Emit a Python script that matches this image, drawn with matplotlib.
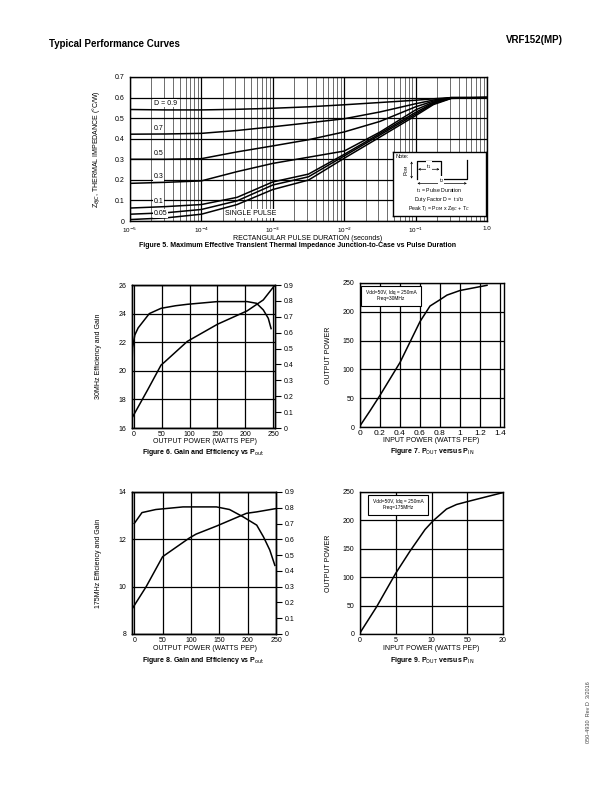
import numpy as np
import matplotlib
matplotlib.use("Agg")
import matplotlib.pyplot as plt

plt.rcParams['font.family'] = ['Liberation Sans', 'DejaVu Sans']
plt.rcParams['axes.linewidth'] = 1.0

# ---- Figure 5: transient thermal impedance ----
log_t = [-5, -4.5, -4, -3.5, -3, -2.5, -2, -1.5, -1, -0.75, -0.5, 0]
zth = {
    "0.9":  [0.542, 0.540, 0.540, 0.543, 0.548, 0.555, 0.565, 0.576, 0.587, 0.594, 0.600, 0.600],
    "0.7":  [0.422, 0.423, 0.426, 0.440, 0.458, 0.477, 0.497, 0.530, 0.570, 0.588, 0.600, 0.600],
    "0.5":  [0.300, 0.300, 0.303, 0.336, 0.365, 0.395, 0.433, 0.484, 0.555, 0.583, 0.599, 0.600],
    "0.3":  [0.183, 0.188, 0.195, 0.240, 0.280, 0.310, 0.340, 0.432, 0.540, 0.578, 0.598, 0.600],
    "0.1":  [0.063, 0.070, 0.080, 0.115, 0.190, 0.228, 0.324, 0.425, 0.528, 0.574, 0.598, 0.600],
    "0.05": [0.033, 0.040, 0.056, 0.098, 0.175, 0.215, 0.316, 0.418, 0.520, 0.570, 0.597, 0.600],
    "single": [0.007, 0.015, 0.033, 0.080, 0.153, 0.199, 0.305, 0.408, 0.512, 0.566, 0.596, 0.600],
}
d_labels = ["D = 0.9", "0.7", "0.5", "0.3", "0.1", "0.05"]
d_label_y = [0.573, 0.451, 0.329, 0.215, 0.096, 0.036]

# ---- Figure 6: 30 MHz gain / efficiency ----
f6_gain_x = [-3, -2, 2, 8, 18, 28, 49, 75, 96, 150, 203, 220, 232, 241, 246]
f6_gain_y = [20.4, 21.6, 22.5, 23.0, 23.5, 24.0, 24.37, 24.55, 24.65, 24.84, 24.84, 24.72, 24.26, 23.67, 22.95]
f6_eff_x = [-3, 25, 49, 55, 96, 150, 203, 232, 253]
f6_eff_y = [0.063, 0.24, 0.396, 0.414, 0.545, 0.653, 0.737, 0.806, 0.9]

# ---- Figure 7: Pout vs Pin 30 MHz ----
f7_pin = [0.0, 0.1, 0.2, 0.4, 0.6, 0.7, 0.8, 0.87, 1.0, 1.27]
f7_pout = [2, 28, 55, 112, 183, 210, 221, 229, 237, 246]

# ---- Figure 8: 175 MHz gain / efficiency ----
f8_gain_x = [0, 13.6, 38, 86, 145, 168, 192, 216, 228, 239, 248]
f8_gain_y = [12.67, 13.13, 13.26, 13.37, 13.37, 13.26, 12.95, 12.6, 12.1, 11.55, 10.9]
f8_eff_x = [-4, 21, 50, 97, 109, 145, 198, 216, 250]
f8_eff_y = [0.158, 0.30, 0.49, 0.608, 0.633, 0.684, 0.765, 0.774, 0.795]

# ---- Figure 9: Pout vs Pin 175 MHz ----
f9_pin = [0, 2.33, 5, 7, 9.1, 10.2, 12.1, 13.5, 15.3, 20]
f9_pout = [2, 48, 107, 146, 184, 199, 220, 228, 234, 249]
f9_ticklabels = ["0", "5", "10", "50", "20"]

W, H = 612, 792
fig = plt.figure(figsize=(W / 100, H / 100), dpi=100)


def box(l, t, r, b):
    return [l / W, 1 - b / H, (r - l) / W, (b - t) / H]


def ftext(x, y, s, **kw):
    fig.text(x / W, 1 - y / H, s, **kw)


ftext(49, 44, "Typical Performance Curves", fontsize=7, fontweight='bold', va='center')
ftext(563, 40, "VRF152(MP)", fontsize=7, fontweight='bold', va='center', ha='right')
ftext(589, 712, "050-4930  Rev D  3/2016", fontsize=4, rotation=90, va='center', ha='center', color='#444444')

# Figure 5
ax5 = fig.add_axes(box(130, 77, 487, 221))
t = 10.0 ** np.array(log_t)
for key, vals in zth.items():
    ax5.plot(t, vals, color='black', lw=1.1)
ax5.set_xscale('log')
ax5.set_xlim(1e-5, 1.0)
ax5.set_ylim(0, 0.7)
ax5.set_xticks([1e-5, 1e-4, 1e-3, 1e-2, 1e-1, 1.0])
ax5.set_xticklabels(["10$^{-5}$", "10$^{-4}$", "10$^{-3}$", "10$^{-2}$", "10$^{-1}$", "1.0"], fontsize=4.5)
ax5.set_yticks(np.arange(0, 0.71, 0.1))
ax5.set_yticklabels(["0", "0.1", "0.2", "0.3", "0.4", "0.5", "0.6", "0.7"], fontsize=5)
ax5.tick_params(which='both', length=0, pad=4)
ax5.tick_params(axis='x', pad=3.5)
ax5.grid(True, which='major', color='black', lw=0.9)
ax5.grid(True, which='minor', axis='x', color='black', lw=0.4)
for lab, yv in zip(d_labels, d_label_y):
    ax5.text(10 ** -4.67, yv, lab, fontsize=5, va='center', ha='left',
             bbox=dict(facecolor='white', edgecolor='none', pad=0.5))
ax5.text(10 ** -3.67, 0.036, "SINGLE PULSE", fontsize=5, va='center', ha='left',
         bbox=dict(facecolor='white', edgecolor='none', pad=0.5))
ftext(308, 238, "RECTANGULAR PULSE DURATION (seconds)", fontsize=5, ha='center', va='center')
ax5.set_ylabel(r"Z$_{\theta JC}$, THERMAL IMPEDANCE (°C/W)", fontsize=5, labelpad=8)
ftext(298, 245.5, "Figure 5. Maximum Effective Transient Thermal Impedance Junction-to-Case vs Pulse Duration",
      fontsize=5, fontweight='bold', ha='center', va='center')

# Note inset
axn = fig.add_axes(box(393, 152, 486, 216))
axn.set_xlim(0, 1)
axn.set_ylim(0, 1)
axn.set_xticks([])
axn.set_yticks([])
axn.patch.set_facecolor('white')
axn.text(0.03, 0.93, "Note:", fontsize=4, va='center')
axn.plot([0.262, 0.262, 0.511, 0.511, 0.794, 0.794], [0.583, 0.854, 0.854, 0.583, 0.583, 0.87],
         color='black', lw=0.9)
axn.annotate("", xy=(0.20, 0.854), xytext=(0.20, 0.583),
             arrowprops=dict(arrowstyle='<->', lw=0.5, shrinkA=0, shrinkB=0, mutation_scale=3))
axn.text(0.15, 0.72, r"P$_{\rm DM}$", fontsize=4, rotation=90, va='center', ha='center')
axn.annotate("", xy=(0.27, 0.73), xytext=(0.50, 0.73),
             arrowprops=dict(arrowstyle='<->', lw=0.5, shrinkA=0, shrinkB=0, mutation_scale=3))
axn.text(0.385, 0.78, r"t$_1$", fontsize=4, ha='center', va='center',
         bbox=dict(facecolor='white', edgecolor='none', pad=0.2))
axn.annotate("", xy=(0.262, 0.51), xytext=(0.794, 0.51),
             arrowprops=dict(arrowstyle='<->', lw=0.5, shrinkA=0, shrinkB=0, mutation_scale=3))
axn.text(0.52, 0.555, r"t$_2$", fontsize=3.8, ha='center', va='center',
         bbox=dict(facecolor='white', edgecolor='none', pad=0.1))
axn.text(0.5, 0.39, r"t$_1$ = Pulse Duration", fontsize=3.8, ha='center', va='center')
axn.text(0.5, 0.25, r"Duty Factor D =  t$_1$/t$_2$", fontsize=3.8, ha='center', va='center')
axn.text(0.5, 0.10, r"Peak T$_J$ = P$_{\rm DM}$ x Z$_{\theta JC}$ + T$_C$", fontsize=3.8, ha='center', va='center')


def setup_ef(ax, ylim, yticks, xlim):
    ax.set_xlim(*xlim)
    ax.set_ylim(*ylim)
    ax.set_xticks([0, 50, 100, 150, 200, 250])
    ax.set_yticks(yticks)
    ax.tick_params(labelsize=5, length=0, pad=4)
    ax.tick_params(axis='x', pad=2)
    ax.grid(True, color='black', lw=0.9)
    axr = ax.twinx()
    axr.set_ylim(0, 0.9)
    axr.set_yticks(np.arange(0, 0.91, 0.1))
    axr.set_yticklabels(["0", "0.1", "0.2", "0.3", "0.4", "0.5", "0.6", "0.7", "0.8", "0.9"])
    axr.tick_params(labelsize=5, length=4, width=0.8, direction='out', pad=2)
    return axr


# Figure 6
ax6 = fig.add_axes(box(132, 285, 275, 428))
ax6r = setup_ef(ax6, (16, 26), [16, 18, 20, 22, 24, 26], (-3, 253))
ax6.plot(f6_gain_x, f6_gain_y, color='black', lw=1.1)
ax6r.plot(f6_eff_x, f6_eff_y, color='black', lw=1.1)
ax6.set_ylabel("30MHz Efficiency and Gain", fontsize=5, labelpad=12)
ftext(205, 441.5, "OUTPUT POWER (WATTS PEP)", fontsize=5, ha='center', va='center')
ftext(203, 452, r"Figure 6. Gain and Efficiency vs P$_{\rm out}$", fontsize=5, fontweight='bold',
      ha='center', va='center')

# Figure 8
ax8 = fig.add_axes(box(132, 492, 276, 634))
ax8r = setup_ef(ax8, (8, 14), [8, 10, 12, 14], (-4, 250))
ax8.plot(f8_gain_x, f8_gain_y, color='black', lw=1.1)
ax8r.plot(f8_eff_x, f8_eff_y, color='black', lw=1.1)
ax8.set_ylabel("175MHz Efficiency and Gain", fontsize=5, labelpad=12)
ftext(205, 648.5, "OUTPUT POWER (WATTS PEP)", fontsize=5, ha='center', va='center')
ftext(203, 661, r"Figure 8. Gain and Efficiency vs P$_{\rm out}$", fontsize=5, fontweight='bold',
      ha='center', va='center')


def setup_pp(ax, xlim, xticks):
    ax.set_xlim(*xlim)
    ax.set_ylim(0, 250)
    ax.set_xticks(xticks)
    ax.set_yticks([0, 50, 100, 150, 200, 250])
    ax.tick_params(labelsize=5, length=0, pad=4)
    ax.tick_params(axis='x', pad=2)
    ax.grid(True, color='black', lw=0.9)
    ax.set_ylabel("OUTPUT POWER", fontsize=5, labelpad=8)


# Figure 7
ax7 = fig.add_axes(box(360, 283, 504, 427))
setup_pp(ax7, (0, 1.44), [0, 0.2, 0.4, 0.6, 0.8, 1.0, 1.2, 1.4])
ax7.set_xticklabels(["0", "0.2", "0.4", "0.6", "0.8", "1", "1.2", "1.4"], fontsize=6)
ax7.plot(f7_pin, f7_pout, color='black', lw=1.1)
ax7.text(0.04, 0.95, "Vdd=50V, Idq = 250mA\nFreq=30MHz", transform=ax7.transAxes, fontsize=3.5,
         ha='left', va='top', linespacing=1.3, multialignment='center',
         bbox=dict(facecolor='white', edgecolor='black', lw=0.8, boxstyle='square,pad=0.9'))
ftext(431, 441, "INPUT POWER (WATTS PEP)", fontsize=5, ha='center', va='center')
ftext(432, 451.5, r"Figure 7. P$_{\rm OUT}$ versus P$_{\rm IN}$", fontsize=5, fontweight='bold',
      ha='center', va='center')

# Figure 9
ax9 = fig.add_axes(box(360, 492, 503, 634))
setup_pp(ax9, (0, 20), [0, 5, 10, 15, 20])
ax9.set_xticklabels(f9_ticklabels)
ax9.plot(f9_pin, f9_pout, color='black', lw=1.1)
ax9.text(0.09, 0.95, "Vdd=50V, Idq = 250mA\nFreq=175MHz", transform=ax9.transAxes, fontsize=3.5,
         ha='left', va='top', linespacing=1.3, multialignment='center',
         bbox=dict(facecolor='white', edgecolor='black', lw=0.8, boxstyle='square,pad=0.9'))
ftext(431, 648, "INPUT POWER (WATTS PEP)", fontsize=5, ha='center', va='center')
ftext(432, 660, r"Figure 9. P$_{\rm OUT}$ versus P$_{\rm IN}$", fontsize=5, fontweight='bold',
      ha='center', va='center')

fig.savefig("out.png", dpi=100)
